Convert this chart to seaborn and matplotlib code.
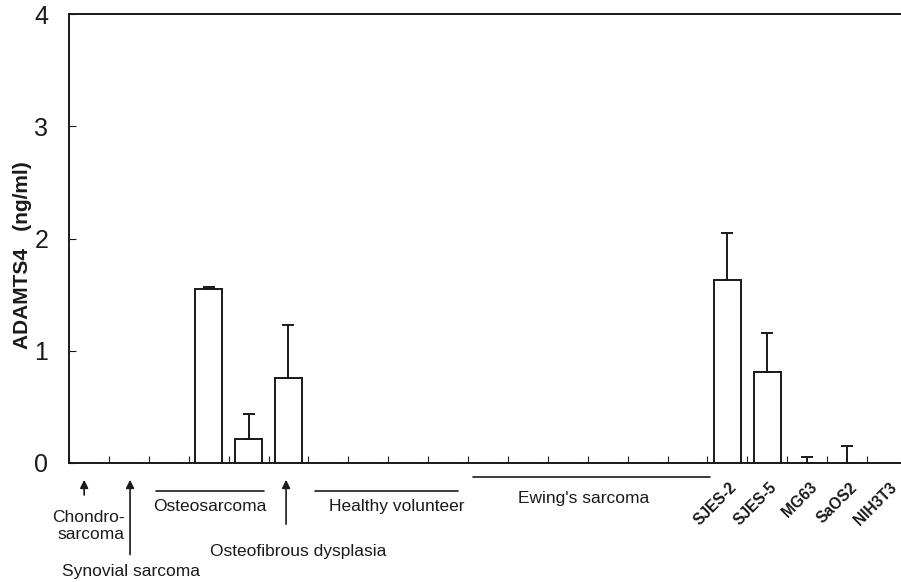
import numpy as np
import pandas as pd
import matplotlib
matplotlib.use('Agg')
import matplotlib.pyplot as plt
import seaborn as sns

# samples in plotting order (21 positions)
samples = ['chondro', 'synovial', 'os1', 'os2', 'os3', 'ofd',
           'hv1', 'hv2', 'hv3', 'hv4',
           'es1', 'es2', 'es3', 'es4', 'es5', 'es6',
           'SJES-2', 'SJES-5', 'MG63', 'SaOS2', 'NIH3T3']
values = [0, 0, 0, 1.55, 0.21, 0.76,
          0, 0, 0, 0,
          0, 0, 0, 0, 0, 0,
          1.63, 0.81, 0, 0, 0]
errors = [0, 0, 0, 0.015, 0.23, 0.47,
          0, 0, 0, 0,
          0, 0, 0, 0, 0, 0,
          0.42, 0.35, 0.05, 0.15, 0]
cell_lines = ['SJES-2', 'SJES-5', 'MG63', 'SaOS2', 'NIH3T3']

ink = '#1a1a1a'
sns.set_style('white')
plt.rcParams['font.family'] = ['Liberation Sans', 'DejaVu Sans']

df = pd.DataFrame({'sample': samples, 'value': values, 'err': errors})

fig = plt.figure(figsize=(9.01, 5.82), dpi=100)
ax = fig.add_axes([69 / 901, 119 / 582, 838 / 901, 449 / 582])

sns.barplot(data=df, x='sample', y='value', order=samples, color='white',
            edgecolor=ink, linewidth=1.4, width=0.66, errorbar=None, ax=ax)

pos = np.arange(len(samples))
err = np.array(errors)
mask = err > 0
ax.errorbar(pos[mask], df['value'][mask], yerr=[np.zeros(mask.sum()), err[mask]],
            fmt='none', ecolor=ink, elinewidth=1.4, capsize=4, capthick=1.4)

ax.set_xlim(-0.5, len(samples) - 0.5)
ax.set_ylim(0, 4)
ax.set_yticks([0, 1, 2, 3, 4])
ax.set_yticklabels(['0', '1', '2', '3', '4'], fontsize=18, color=ink)
ax.set_xticks(np.arange(len(samples)) - 0.5)
ax.set_xticklabels([''] * len(samples))
ax.tick_params(axis='y', left=True, direction='in', length=5, width=0.8, pad=15, colors=ink)
ax.tick_params(axis='x', bottom=True, direction='in', length=5, width=0.8, colors=ink)
ax.set_xlabel('')
ax.set_ylabel('ADAMTS4   (ng/ml)', fontsize=15, fontweight='bold', color=ink)
ax.yaxis.set_label_coords(-0.044, 0.463)
for side in ['left', 'top', 'bottom']:
    ax.spines[side].set_color(ink)
    ax.spines[side].set_linewidth(1.4)
ax.spines['right'].set_visible(False)

fs = 12.5
arrow = dict(arrowstyle='-|>', color=ink, lw=1.2, mutation_scale=12)


def up_arrow(x, y_tail, y_head=-0.125):
    ax.annotate('', xy=(x, y_head), xytext=(x, y_tail), arrowprops=arrow,
                annotation_clip=False)


def bracket(x0, x1, y):
    ax.plot([x0, x1], [y, y], color=ink, lw=1.2, clip_on=False)


up_arrow(-0.12, -0.31)
ax.text(0.9, -0.56, 'Chondro-\nsarcoma', ha='right', va='center', ma='right',
        fontsize=fs, color=ink, linespacing=1.15)

up_arrow(1.03, -0.84)
ax.text(1.05, -0.97, 'Synovial sarcoma', ha='center', va='center', fontsize=fs, color=ink)

bracket(1.68, 4.39, -0.25)
ax.text(3.03, -0.39, 'Osteosarcoma', ha='center', va='center', fontsize=fs, color=ink)

up_arrow(4.94, -0.57)
ax.text(5.24, -0.79, 'Osteofibrous dysplasia', ha='center', va='center', fontsize=fs, color=ink)

bracket(5.66, 9.25, -0.25)
ax.text(7.72, -0.39, 'Healthy volunteer', ha='center', va='center', fontsize=fs, color=ink)

bracket(9.62, 15.56, -0.125)
ax.text(12.4, -0.32, "Ewing's sarcoma", ha='center', va='center', fontsize=fs, color=ink)

for name in cell_lines:
    i = samples.index(name)
    ax.text(i + 0.05, -0.15, name, rotation=45, rotation_mode='anchor',
            ha='right', va='top', fontsize=11.2, fontweight='heavy', color=ink)

fig.savefig('out.png', dpi=100)
